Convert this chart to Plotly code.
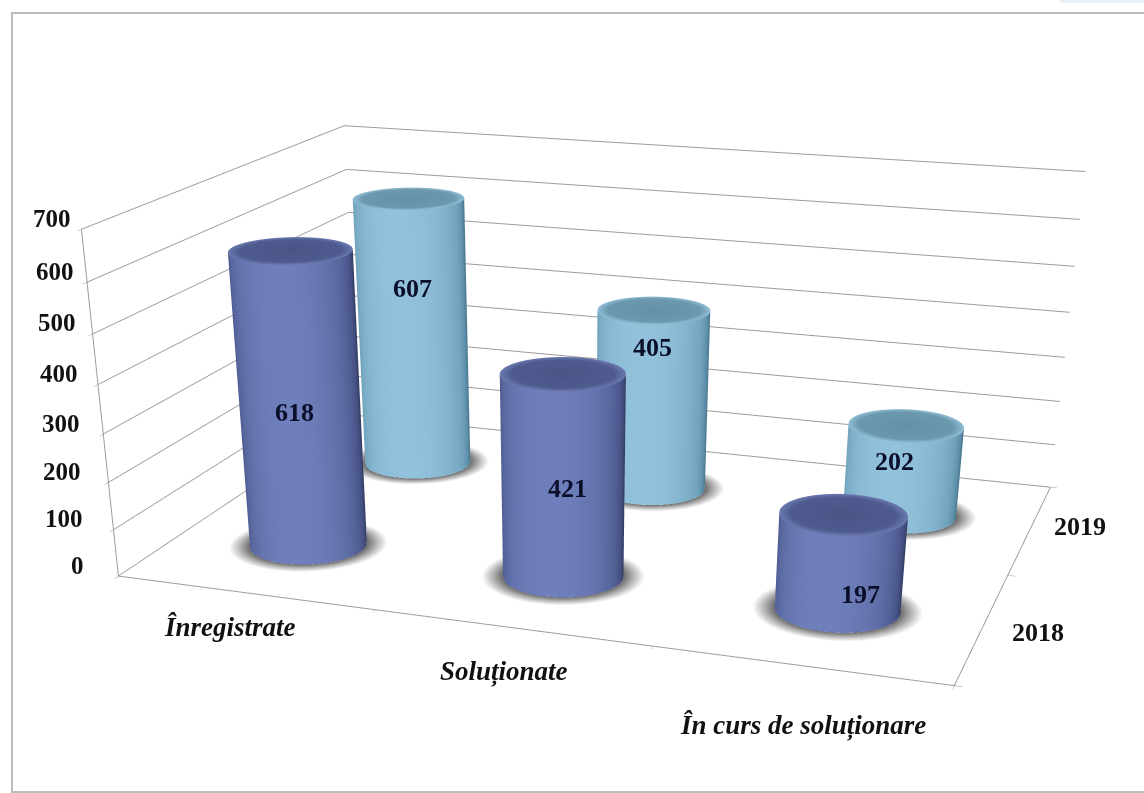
import numpy as np
import plotly.graph_objects as go

categories = ["Înregistrate", "Soluționate", "În curs de soluționare"]
series_names = ["2018", "2019"]
values_2018 = [618, 421, 197]
values_2019 = [607, 405, 202]
z_ticks = [0, 100, 200, 300, 400, 500, 600, 700]

# pixel nudges for text (library projects the anchor, these only refine placement)
cat_shift = [(-15, -34), (-8, -44), (2, -60)]
series_shift = [(55, -5), (50, 2)]
label_shift_2018 = [(-5, -10), (4, -11), (20, -32)]
label_shift_2019 = [(-1, 46), (0, 53), (-8, 9)]

W, H = 1144, 1800
aspect = dict(x=1, y=0.6987, z=0.4031)
eye = dict(x=0.8131, y=-2.4871, z=0.7143)
center = dict(x=0.1267, y=-0.5082, z=-0.4456)
FONT = "Liberation Serif"
world_r = 0.0717
rx = world_r / (aspect["x"] / 3)
ry = world_r / (aspect["y"] / 2)

dark_side = [[0, "#353F69"], [0.5, "#525F95"], [1, "#6F7FBB"]]
dark_cap = [[0, "#4A5587"], [0.82, "#4F5B8F"], [1, "#6A79B0"]]
light_side = [[0, "#4B7A92"], [0.5, "#72A4BE"], [1, "#92C1DB"]]
light_cap = [[0, "#6591A8"], [0.82, "#6C98AE"], [1, "#90BED6"]]
flat = dict(ambient=1, diffuse=0, specular=0, fresnel=0, roughness=1)

fig = go.Figure()


def cylinder(cx, cy, h, side, cap):
    t = np.linspace(0, 2 * np.pi, 121)
    wx = (cx / 3 - 0.5) * aspect["x"]
    wy = (cy / 2 - 0.5) * aspect["y"]
    az = np.arctan2(eye["y"] - wy, eye["x"] - wx)
    d = (t - az + np.pi) % (2 * np.pi) - np.pi
    s = np.clip(np.cos(d + 0.2), 0, 1) ** 0.7
    X = np.array([cx + rx * np.cos(t)] * 2)
    Y = np.array([cy + ry * np.sin(t)] * 2)
    Z = np.array([np.zeros_like(t), np.full_like(t, h)])
    common = dict(showscale=False, hoverinfo="skip", lighting=flat)
    rr = np.linspace(0, 1.36, 30)
    fig.add_trace(go.Surface(
        x=cx + rx * np.outer(rr, np.cos(t)), y=cy + ry * np.outer(rr, np.sin(t)),
        z=np.full((30, t.size), 0.5), surfacecolor=np.outer(rr / 1.36, np.ones_like(t)),
        cmin=0, cmax=1, colorscale=[[0, "#3c3c3c"], [1, "#6f6f6f"]],
        opacityscale=[[0, 1], [0.72, 1], [1, 0]], **common))
    fig.add_trace(go.Surface(x=X, y=Y, z=Z, surfacecolor=np.array([s, s]),
                             cmin=0, cmax=1, colorscale=side, **common))
    rr = np.linspace(0, 1, 16)
    fig.add_trace(go.Surface(
        x=cx + rx * np.outer(rr, np.cos(t)), y=cy + ry * np.outer(rr, np.sin(t)),
        z=np.full((16, t.size), h), surfacecolor=np.outer(rr, np.ones_like(t)),
        cmin=0, cmax=1, colorscale=cap, **common))


for i in range(3):
    cylinder(i + 0.5, 1.5, values_2019[i], light_side, light_cap)
    cylinder(i + 0.5, 0.5, values_2018[i], dark_side, dark_cap)

ann = []


def label(x, y, z, text, size, color="#111111", **kw):
    ann.append(dict(x=x, y=y, z=z, text=text, showarrow=False,
                    font=dict(family=FONT, size=size, color=color), **kw))


for v in z_ticks:
    label(0, 0, v, f"<b>{v}</b>", 25, xanchor="right",
          xshift=-21 - 11 + 24 * v / 700, yshift=11)
for i, c in enumerate(categories):
    dx, dy = cat_shift[i]
    label(i + 0.5, 0, 0, f"<b><i>{c}</i></b>", 27, xshift=dx, yshift=dy)
for j, n in enumerate(series_names):
    dx, dy = series_shift[j]
    label(3, j + 0.5, 0, f"<b>{n}</b>", 26, xshift=dx, yshift=dy)
for i in range(3):
    dx, dy = label_shift_2018[i]
    label(i + 0.5, 0.5, values_2018[i] / 2, f"<b>{values_2018[i]}</b>", 26, "#0B0F2A",
          xshift=dx, yshift=dy)
    dx, dy = label_shift_2019[i]
    label(i + 0.5, 1.5, values_2019[i] / 2, f"<b>{values_2019[i]}</b>", 26, "#0B0F2A",
          xshift=dx, yshift=dy)

axis_line = "#9C9C9C"
base = dict(title="", showbackground=False, showspikes=False, showticklabels=False,
            zeroline=False, showline=True, linecolor=axis_line, linewidth=2,
            ticks="outside", ticklen=6, tickcolor=axis_line)
fig.update_layout(
    width=W, height=H, margin=dict(l=0, r=0, t=0, b=0), paper_bgcolor="white",
    showlegend=False,
    shapes=[
        dict(type="rect", xref="paper", yref="paper", x0=12 / W, x1=1.01,
             y0=1 - 792 / H, y1=1 - 13 / H, line=dict(color="#BDBDBD", width=2)),
        dict(type="rect", xref="paper", yref="paper", x0=1060 / W, x1=1.0,
             y0=1 - 3 / H, y1=1.0, line=dict(width=0), fillcolor="#EAF2F8"),
    ],
    scene=dict(
        domain=dict(x=[0, 1], y=[0, 1]),
        aspectmode="manual", aspectratio=aspect,
        camera=dict(eye=eye, center=center, up=dict(x=0, y=0, z=1),
                    projection=dict(type="perspective")),
        xaxis=dict(range=[0, 3], tickvals=[0, 1, 2, 3], showgrid=False, **base),
        yaxis=dict(range=[0, 2], tickvals=[0, 1, 2], showgrid=False, **base),
        zaxis=dict(range=[0, 700], tickvals=z_ticks, showgrid=True,
                   gridcolor="#9C9C9C", gridwidth=2, **base),
        annotations=ann,
    ),
)
fig.write_html("out.html", config=dict(displayModeBar=False),
               post_script="document.body.style.margin='0';document.body.style.overflow='hidden';"
                           "document.documentElement.style.overflow='hidden';")
